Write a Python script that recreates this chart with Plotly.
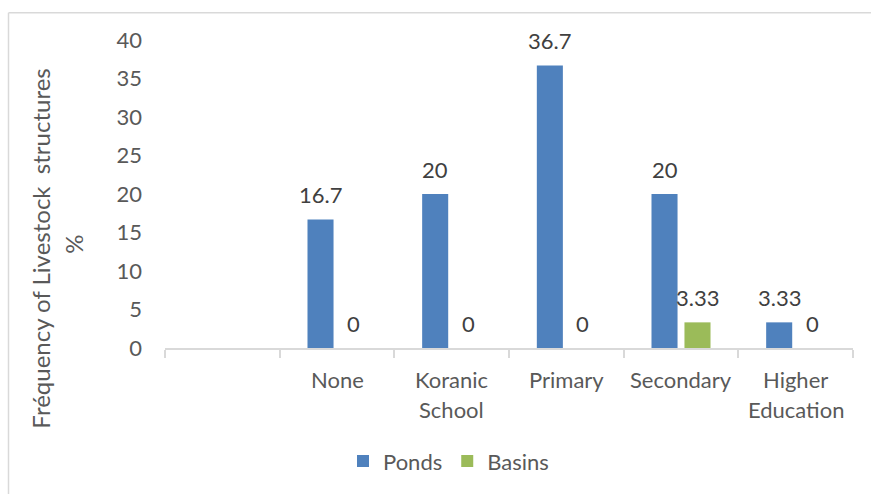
import plotly.graph_objects as go

categories = ["None", "Koranic<br>School", "Primary", "Secondary", "Higher<br>Education"]
all_categories = [" "] + categories
ponds = [16.7, 20, 36.7, 20, 3.33]
basins = [0, 0, 0, 3.33, 0]
ponds_labels = ["16.7", "20", "36.7", "20", "3.33"]
basins_labels = ["0", "0", "0", "3.33", "0"]
y_ticks = [0, 5, 10, 15, 20, 25, 30, 35, 40]

W, H = 871, 494
L, R, T, B = 165, 18, 40, 144
pw, ph = W - L - R, H - T - B

FONT = "Lato"
FS = 22
TXT = "#595959"
LBL = "#404040"

fig = go.Figure()
fig.add_trace(go.Bar(name="Ponds", x=categories, y=ponds, marker_color="#4f81bd",
                     marker_line_width=0))
fig.add_trace(go.Bar(name="Basins", x=categories, y=basins, marker_color="#9bbb59",
                     marker_line_width=0))


def px_x(x):
    return (x - L) / pw


def px_y(y):
    return (H - B - y) / ph


annotations = []
for cat, v, t in zip(categories, ponds, ponds_labels):
    annotations.append(dict(x=cat, y=v, text=t, showarrow=False, xshift=-16.5, yshift=25,
                            yanchor="middle", xanchor="center",
                            font=dict(family=FONT, size=FS, color=LBL)))
for cat, v, t in zip(categories, basins, basins_labels):
    annotations.append(dict(x=cat, y=v, text=t, showarrow=False, xshift=16.5, yshift=25,
                            yanchor="middle", xanchor="center",
                            font=dict(family=FONT, size=FS, color=LBL)))

# category labels, line by line
for cat in categories:
    for i, line in enumerate(cat.split("<br>")):
        annotations.append(dict(x=cat, xref="x", yref="paper", y=px_y(382 + 30 * i),
                                text=line, showarrow=False, xanchor="center",
                                yanchor="middle",
                                font=dict(family=FONT, size=FS, color=TXT)))

# y-axis title (two lines placed individually)
annotations.append(dict(xref="paper", yref="paper", x=px_x(41), y=px_y(250),
                        text="Fréquency of Livestock  structures", textangle=-90,
                        showarrow=False, xanchor="center", yanchor="middle",
                        font=dict(family=FONT, size=24, color=TXT)))
annotations.append(dict(xref="paper", yref="paper", x=px_x(74), y=px_y(245),
                        text="%", textangle=-90,
                        showarrow=False, xanchor="center", yanchor="middle",
                        font=dict(family=FONT, size=24, color=TXT)))

shapes = [
    dict(type="line", xref="paper", yref="paper", x0=px_x(8.5), y0=px_y(12.5),
         x1=px_x(W + 5), y1=px_y(12.5), line=dict(color="#d9d9d9", width=1.5)),
    dict(type="line", xref="paper", yref="paper", x0=px_x(8.5), y0=px_y(12.5),
         x1=px_x(8.5), y1=px_y(H + 5), line=dict(color="#d9d9d9", width=1.5)),
]

fig.update_layout(
    width=W, height=H,
    margin=dict(l=L, r=R, t=T, b=B),
    paper_bgcolor="white", plot_bgcolor="white",
    barmode="group", bargap=0.425, bargroupgap=0.21,
    font=dict(family=FONT, size=FS, color=TXT),
    showlegend=True,
    legend=dict(orientation="h", xanchor="left", yanchor="middle",
                x=px_x(343), y=px_y(464), font=dict(family=FONT, size=FS, color=TXT),
                itemwidth=30, bgcolor="rgba(0,0,0,0)"),
    annotations=annotations,
    shapes=shapes,
)
fig.update_xaxes(type="category", categoryorder="array", categoryarray=all_categories,
                 range=[-0.5, 5.5], tickson="boundaries", ticks="outside", ticklen=8,
                 tickcolor="#d9d9d9", tickwidth=1.5,
                 showline=True, linecolor="#d9d9d9", linewidth=1.5,
                 showgrid=False, zeroline=False, showticklabels=False)
fig.update_yaxes(range=[0, 40], tickvals=y_ticks, showgrid=False, zeroline=False,
                 showline=False, ticks="", ticklabelstandoff=22,
                 tickfont=dict(family=FONT, size=FS, color=TXT))

fig.write_html("out.html")
